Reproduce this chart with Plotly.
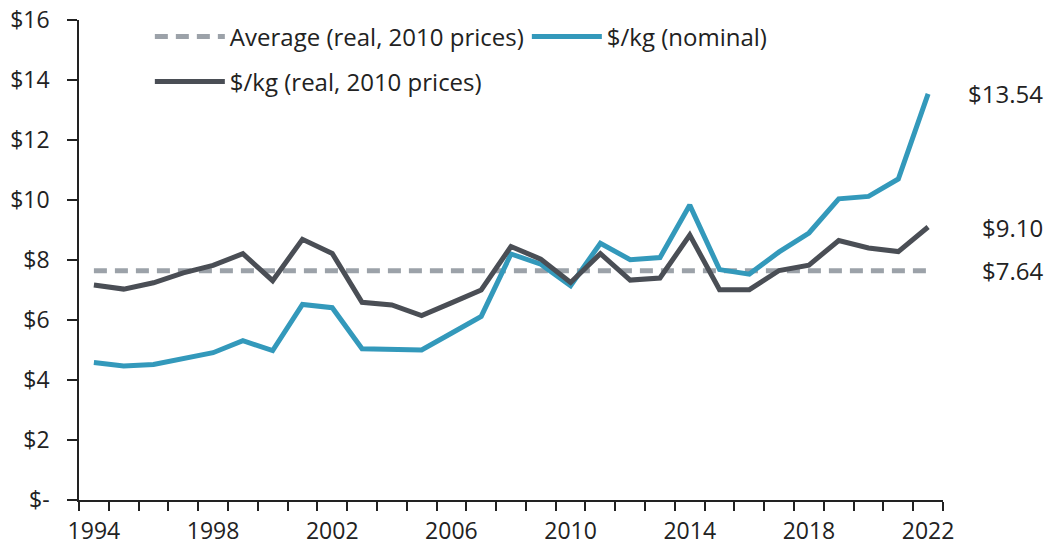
import plotly.graph_objects as go

years = list(range(1994, 2023))
nominal = [4.58, 4.47, 4.52, 4.72, 4.91, 5.31, 4.98, 6.52, 6.41, 5.04, 5.01, 5.00, 5.56, 6.12,
           8.20, 7.86, 7.14, 8.56, 8.01, 8.08, 9.83, 7.68, 7.53, 8.27, 8.90, 10.04, 10.12, 10.70, 13.54]
real = [7.17, 7.03, 7.24, 7.57, 7.82, 8.21, 7.31, 8.69, 8.22, 6.59, 6.50, 6.15, 6.57, 7.00,
        8.45, 8.03, 7.25, 8.21, 7.33, 7.40, 8.83, 7.01, 7.01, 7.65, 7.83, 8.65, 8.40, 8.28, 9.10]
average = 7.64

xticks = [1994, 1998, 2002, 2006, 2010, 2014, 2018, 2022]
yticks = [0, 2, 4, 6, 8, 10, 12, 14, 16]
ylabels = ['$-', '$2', '$4', '$6', '$8', '$10', '$12', '$14', '$16']

names = ['Average (real, 2010 prices)', '$/kg (nominal)', '$/kg (real, 2010 prices)']
end_labels = ['$13.54', '$9.10', '$7.64']

TEAL = '#3399bb'
DARK = '#4a4e55'
GREY = '#9ca2a9'
TXT = '#222222'
FONT = 'Open Sans'

fig = go.Figure()
fig.add_trace(go.Scatter(x=years, y=[average] * len(years), mode='lines', name=names[0],
                         line=dict(color=GREY, width=5, dash='13px,8px'), legend='legend'))
fig.add_trace(go.Scatter(x=years, y=nominal, mode='lines', name=names[1],
                         line=dict(color=TEAL, width=5), legend='legend'))
fig.add_trace(go.Scatter(x=years, y=real, mode='lines', name=names[2],
                         line=dict(color=DARK, width=5), legend='legend2'))

# end-of-line value labels
for txt, val in zip(end_labels, [nominal[-1], real[-1], average]):
    fig.add_annotation(x=1, xref='paper', y=val, yref='y', text=txt, showarrow=False,
                       xanchor='right', xshift=102, font=dict(size=24, color=TXT, family=FONT))

leg = dict(orientation='h', xanchor='left', yanchor='middle', bgcolor='rgba(0,0,0,0)',
           font=dict(size=24, color=TXT, family=FONT), itemwidth=70,
           entrywidth=292, entrywidthmode='pixels')

fig.update_layout(
    width=1054, height=549,
    margin=dict(l=79, r=111, t=20, b=49, autoexpand=False),
    paper_bgcolor='white', plot_bgcolor='white',
    font=dict(family=FONT, size=23, color=TXT),
    legend=dict(leg, x=0.082, y=0.965),
    legend2=dict(leg, x=0.082, y=0.871),
    showlegend=True,
)
fig.update_xaxes(range=[1993.5, 2022.5], tickvals=xticks, ticks='', showgrid=False,
                 showline=True, linecolor=TXT, linewidth=1.5, zeroline=False,
                 ticklabelstandoff=10, automargin=False, ticklabeloverflow='allow',
                 minor=dict(tick0=1993.5, dtick=1, ticks='outside', ticklen=9,
                            tickcolor=TXT, tickwidth=1.5, showgrid=False))
fig.update_yaxes(range=[0, 16], tickvals=yticks, ticktext=ylabels, ticks='outside',
                 ticklen=10, tickcolor=TXT, tickwidth=1.5, showgrid=False,
                 showline=True, linecolor=TXT, linewidth=1.5, zeroline=False,
                 ticklabelstandoff=13, automargin=False, ticklabeloverflow='allow')

# drop the default 8px page margin so the figure fills the window exactly
fig.write_html("out.html", config={'displayModeBar': False},
               post_script="document.body.style.margin='0';")
